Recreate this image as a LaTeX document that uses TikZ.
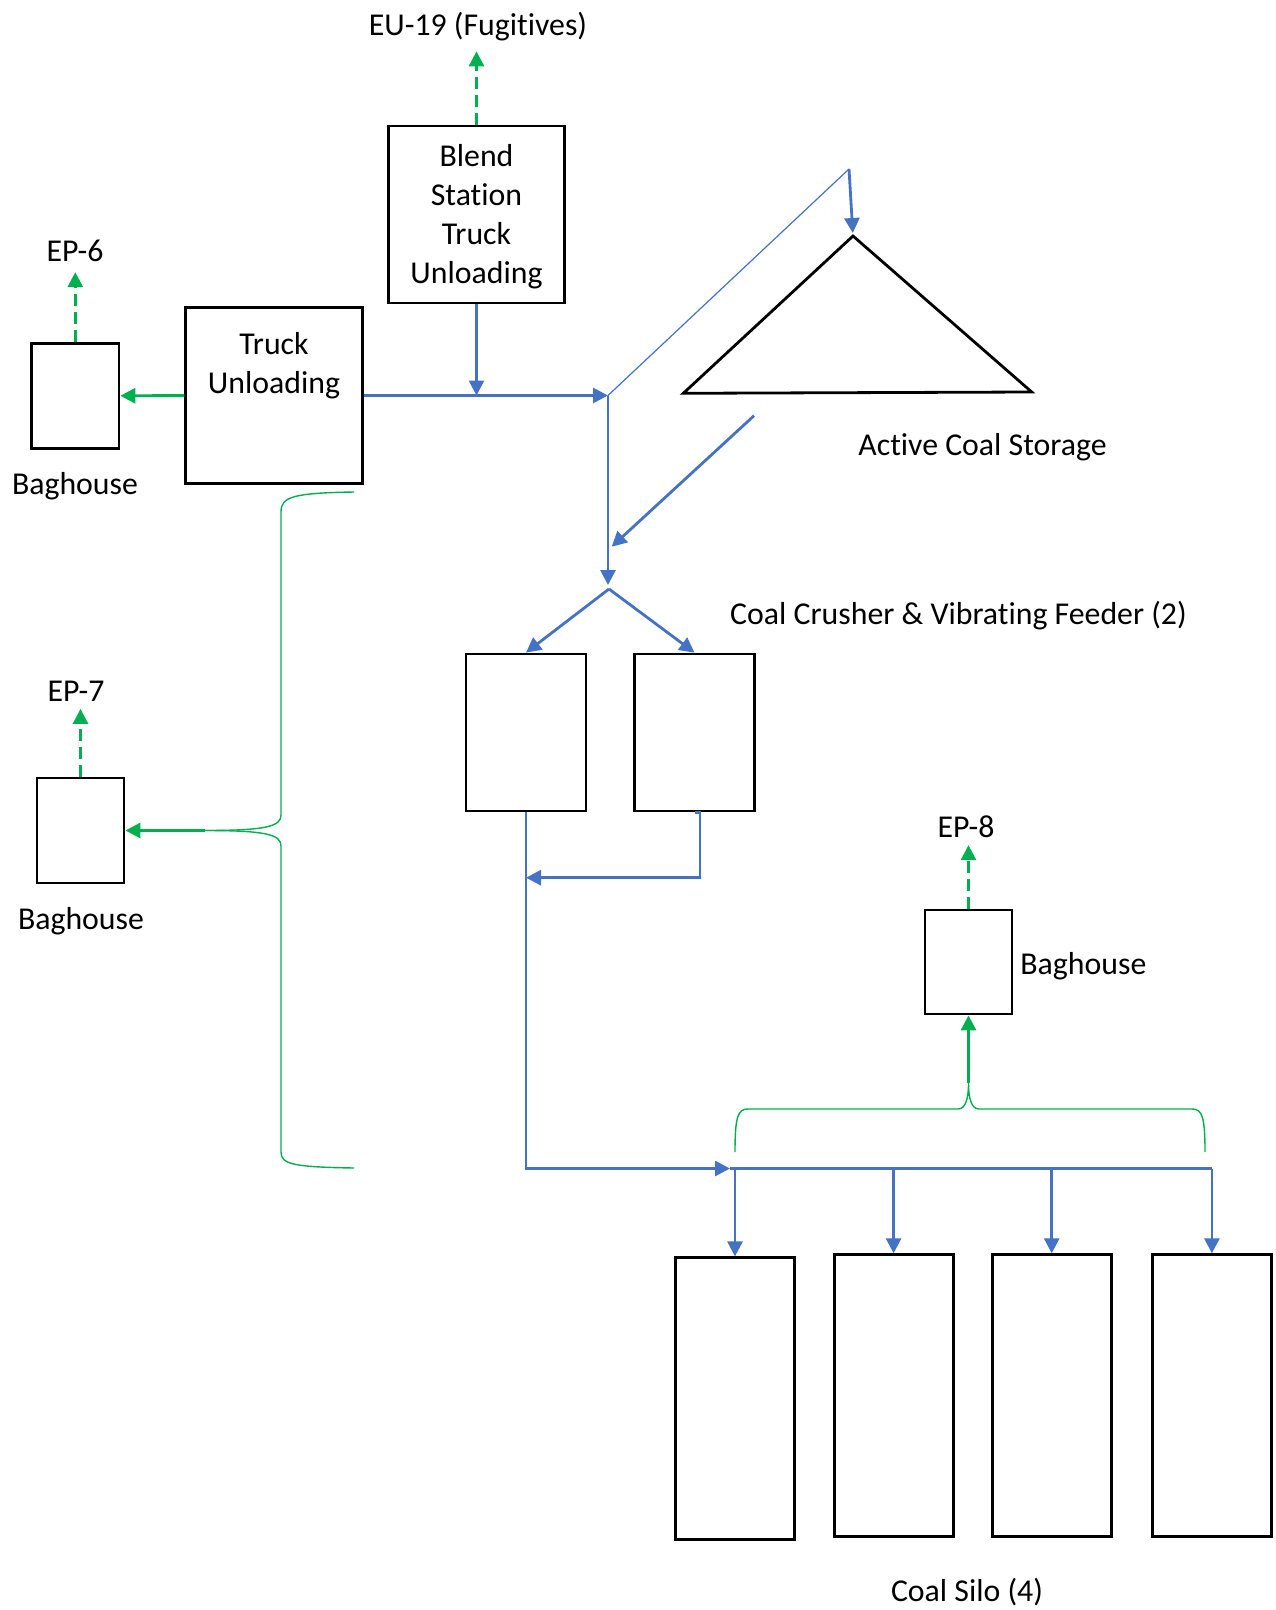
\documentclass[tikz,border=0pt]{standalone}
\usepackage{fontspec}
\setmainfont{Carlito}[Ligatures={NoCommon}]
\usetikzlibrary{arrows.meta,positioning}
\definecolor{flowblue}{HTML}{4472C4}
\definecolor{ventgreen}{HTML}{00B050}
\tikzset{
  equip/.style = {draw, line width=1.4pt, inner sep=0pt},
  txt/.style = {font=\fontsize{15.9}{19.4}\selectfont, inner sep=2pt, align=center},
  coalline/.style = {draw=flowblue, line width=1.4pt},
  coalflow/.style = {coalline, -{Triangle[length=7.5pt, width=7.5pt]}},
  vent/.style = {draw=ventgreen, line width=1.4pt, dash pattern=on 6pt off 3pt, -{Triangle[length=7.5pt, width=7.5pt]}},
  dust/.style = {draw=ventgreen, line width=1.4pt, -{Triangle[length=7.5pt, width=7.5pt]}},
  hood/.style = {draw=ventgreen, line width=0.7pt}
}
\begin{document}
\begin{tikzpicture}[x=0.5pt, y=-0.5pt]
      \useasboundingbox (0, 0) rectangle (1275, 1610);
      \node (blend) at (476.5, 214.5) [equip, minimum width=88pt, minimum height=88.5pt] {};
      \node (blendtxt) at ([yshift=-1pt]blend.center) [txt] {Blend\\Station\\Truck\\Unloading};
      \node (truck) at (274, 395.5) [equip, minimum width=88.3pt, minimum height=88.2pt] {};
      \node (trucktxt) [txt, below=11pt of truck.north] {Truck\\Unloading};
      \node (bag1) at (75.3, 395.8) [equip, minimum width=43.6pt, minimum height=52.5pt] {};
      \node (bag2) at (80.5, 830.5) [equip, minimum width=43.5pt, minimum height=52.5pt] {};
      \node (bag3) at (968.5, 962) [equip, minimum width=43.5pt, minimum height=52pt] {};
      \node (crush1) at (526, 732.5) [equip, minimum width=60pt, minimum height=78.5pt] {};
      \node (crush2) at (694.5, 732.5) [equip, minimum width=60pt, minimum height=78.5pt] {};
      \foreach \i/\x/\y in {1/735/1398.8, 2/893.6/1395.7, 3/1051.7/1395.7, 4/1211.9/1395.7}
        \node (silo\i) at (\x, \y) [equip, minimum width=59.5pt, minimum height=141pt] {};
      \coordinate (apex) at (853, 236);
      \draw [line width=1.4pt] (683.3, 393.3) -- (apex) -- (1031.7, 392) -- cycle;

      \node (eu19) at (478, 35.5) [txt, anchor=base] {EU-19 (Fugitives)};
      \node (ep6) at (75, 261.5) [txt, anchor=base] {EP-6};
      \node (bh1) at (75, 494.5) [txt, anchor=base] {Baghouse};
      \node (ep7) at (76, 701.5) [txt, anchor=base] {EP-7};
      \node (bh2) at (81, 929.5) [txt, anchor=base] {Baghouse};
      \node (ep8) at (966, 837.5) [txt, anchor=base] {EP-8};
      \node (bh3) at (1016, 974.5) [txt, anchor=base west] {Baghouse};
      \node (piletxt) at (982.5, 455) [txt, anchor=base] {Active Coal Storage};
      \node (crushtxt) at (958.5, 624) [txt, anchor=base] {Coal Crusher \& Vibrating Feeder (2)};
      \node (silotxt) at (967, 1601.5) [txt, anchor=base] {Coal Silo (4)};

      \draw [vent, shorten >=3pt] (blend.north) -- (blend.north |- eu19.south);
      \draw [vent, shorten >=3pt] (bag1.north) -- (bag1.north |- ep6.south);
      \draw [vent, shorten >=1.5pt] (bag2.north) -- (bag2.north |- ep7.south);
      \draw [vent, shorten >=1.5pt] (bag3.north) -- (bag3.north |- ep8.south);

      \draw [dust] (truck.west) -- (bag1.east);
      \coordinate (bracetip) at (205, 830.5);
      \draw [dust] (bracetip) -- (bag2.east);
      \coordinate (silotip) at (968.5, 1083);
      \draw [dust] (silotip) -- (bag3.south);
      \draw [hood] (354, 492) .. controls (292, 493) and (281, 497) .. (281, 512) -- (281, 815) .. controls (281, 826) and (268, 830.5) .. (bracetip);
      \draw [hood] (bracetip) .. controls (268, 830.5) and (281, 835) .. (281, 846) -- (281, 1152) .. controls (281, 1164) and (292, 1167) .. (354, 1168);
      \draw [hood] (735, 1152) .. controls (735, 1116) and (738, 1109) .. (748, 1109) -- (958, 1109) .. controls (965, 1109) and (968.5, 1100) .. (silotip) .. controls (968.5, 1100) and (972, 1109) .. (979, 1109) -- (1192, 1109) .. controls (1202, 1109) and (1205, 1116) .. (1205, 1152);

      \coordinate (jn) at (608, 395.5);
      \draw [coalflow] (truck.east) -- (jn);
      \draw [coalflow] (blend.south) -- (blend.south |- jn);
      \coordinate (turn) at (849, 169);
      \draw [coalline, line width=0.6pt] (jn) -- (turn);
      \draw [coalflow, shorten >=1.5pt] (turn) -- (apex);
      \coordinate (reclaim) at (754, 415.7);
      \coordinate (reclaimend) at (611.7, 546.7);
      \draw [coalflow] (reclaim) -- (reclaimend);
      \coordinate (split) at (609, 589);
      \draw [coalflow, shorten >=2pt] (jn) -- (jn |- split);
      \draw [coalflow] (split) -- (crush1.north);
      \draw [coalflow] (split) -- (crush2.north);
      \coordinate (sj) at (730, 1168.5);
      \draw [coalflow] (crush1.south) |- (sj);
      \coordinate (rj) at (526, 877.7);
      \draw [coalflow] (crush2.south) -- ++(5.5, 0) |- (rj);
      \draw [coalline] (sj) -- (silo4.north |- sj);
      \foreach \i in {1, ..., 4}
        \draw [coalflow] (silo\i.north |- sj) -- (silo\i.north);
    \end{tikzpicture}
\end{document}
